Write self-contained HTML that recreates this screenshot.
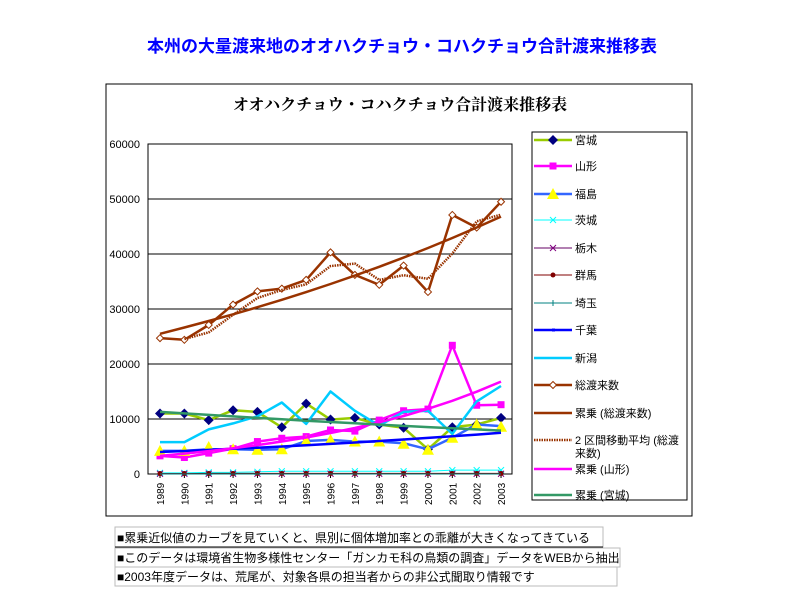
<!DOCTYPE html>
<html><head><meta charset="utf-8"><style>
body{margin:0;background:#fff;width:800px;height:600px;overflow:hidden;font-family:"Liberation Sans","Noto Sans CJK JP",sans-serif}
</style></head><body>
<svg id="s" width="800" height="600" xmlns="http://www.w3.org/2000/svg" font-family="Liberation Sans, Noto Sans CJK JP, sans-serif">
<text x="402" y="52" text-anchor="middle" font-size="17" font-weight="bold" fill="#0000ff">本州の大量渡来地のオオハクチョウ・コハクチョウ合計渡来推移表</text>
<rect x="106" y="84" width="586" height="432" fill="#fff" stroke="#000" stroke-width="1"/>
<text x="400" y="110" text-anchor="middle" font-size="16" font-weight="bold" font-family="Liberation Serif, Noto Serif CJK SC, serif">オオハクチョウ・コハクチョウ合計渡来推移表</text>
<rect x="148" y="144" width="364" height="330" fill="#fff" stroke="#000"/>
<g id="g"></g>
<rect x="532" y="132" width="155" height="368" fill="#fff" stroke="#000"/>
<g id="lg" font-size="11"></g>
<g font-size="12">
<rect x="115" y="527" width="488" height="20" fill="#fff" stroke="#bbb"/>
<text x="117" y="542">■累乗近似値のカーブを見ていくと、県別に個体増加率との乖離が大きくなってきている</text>
<line x1="115" y1="547" x2="603" y2="547" stroke="#000"/>
<rect x="115" y="548" width="505" height="19" fill="#fff" stroke="#bbb"/>
<text x="117" y="562">■このデータは環境省生物多様性センター「ガンカモ科の鳥類の調査」データをWEBから抽出</text>
<rect x="115" y="567" width="502" height="19" fill="#fff" stroke="#bbb"/>
<text x="117" y="581">■2003年度データは、荒尾が、対象各県の担当者からの非公式聞取り情報です</text>
</g>
</svg>
<script>
var ns="http://www.w3.org/2000/svg",g=document.getElementById("g"),lg=document.getElementById("lg");
function el(p,t,a){var e=document.createElementNS(ns,t);for(var k in a)e.setAttribute(k,a[k]);p.appendChild(e);return e;}
function X(i){return 160+i*24.36} function Y(v){return 474-v*0.0055}
for(var v=10000;v<=50000;v+=10000)el(g,"line",{x1:148,x2:512,y1:Y(v),y2:Y(v),stroke:"#000"});
for(var v=0;v<=60000;v+=10000){var t=el(g,"text",{x:140,y:Y(v)+4,"text-anchor":"end","font-size":"11"});t.textContent=v;}
for(var i=0;i<15;i++){var x=X(i);el(g,"line",{x1:x,x2:x,y1:474,y2:478,stroke:"#000"});var t=el(g,"text",{x:0,y:0,"font-size":"10",transform:"translate("+(x+4)+",505) rotate(-90)"});t.textContent=1989+i;}
function pw(a,b){var r=[];for(var i=0;i<15;i++)r.push(a*Math.pow(b/a,i/14));return r;}
var tot=[24700,24400,27100,30800,33200,33700,35300,40300,36200,34400,37900,33100,47100,44800,49500];
var ma=[null];for(var i=1;i<15;i++)ma.push((tot[i]+tot[i-1])/2);
var S=[
 {d:[11000,11000,9800,11600,11300,8500,12800,9900,10200,9000,8400,4500,8500,9000,10200],c:"#99cc00",w:2.5,m:"dia",mc:"#000080"},
 {d:[3300,3000,3800,4600,5900,6500,6800,8000,7800,9800,11500,11800,23400,12500,12600],c:"#ff00ff",w:2.5,m:"sq",mc:"#ff00ff"},
 {d:[4200,4200,4500,4500,4400,4500,6000,6200,5900,5900,5600,4500,6600,9000,8700],c:"#3366ff",w:2.5,m:"tri",mc:"#ffff00",md:[4200,4200,4900,4500,4400,4500,6000,6200,5900,5900,5500,4400,6600,9000,8600]},
 {d:[200,200,300,300,400,500,500,500,500,500,500,500,700,700,700],c:"#00ffff",w:1,m:"x",mc:"#00ffff"},
 {d:[50,50,50,50,50,50,50,50,50,50,50,50,50,50,50],c:"#660066",w:1,m:"x",mc:"#800080"},
 {d:[80,80,100,100,100,100,100,100,100,100,100,100,100,100,100],c:"#800000",w:1,m:"dot",mc:"#800000"},
 {d:[0,0,0,0,0,0,0,0,0,0,0,0,0,0,0],c:"#008080",w:1},
 {d:pw(4000,7500),c:"#0000ff",w:2.5},
 {d:[5800,5800,8100,9200,10500,13000,9100,15000,11500,8800,11300,11500,7300,13200,16000],c:"#00ccff",w:2.5},
 {d:tot,c:"#993300",w:2.5,m:"circ",mc:"#fff"},
 {d:pw(25500,46800),c:"#993300",w:2.5},
 {d:ma,c:"#993300",w:2.5,dash:"1.5,1"},
 {d:pw(3300,16800),c:"#ff00ff",w:2.5},
 {d:pw(11300,7900),c:"#339966",w:2.5}
];
function mk(p,type,x,y,c,stroke){
 if(type=="dia")el(p,"polygon",{points:[x,y-5,x+5,y,x,y+5,x-5,y].join(","),fill:c});
 else if(type=="sq")el(p,"rect",{x:x-3.5,y:y-3.5,width:7,height:7,fill:c});
 else if(type=="tri")el(p,"polygon",{points:[x,y-6,x+6,y+5,x-6,y+5].join(","),fill:c});
 else if(type=="x"){el(p,"path",{d:"M"+(x-3)+" "+(y-3)+"L"+(x+3)+" "+(y+3)+"M"+(x+3)+" "+(y-3)+"L"+(x-3)+" "+(y+3),stroke:c,"stroke-width":1});}
 else if(type=="dot")el(p,"circle",{cx:x,cy:y,r:2.5,fill:c});
 else if(type=="circ")el(p,"polygon",{points:[x,y-3.5,x+3.5,y,x,y+3.5,x-3.5,y].join(","),fill:"#fff",stroke:"#993300"});
}
S.forEach(function(s){
 var pts=[];s.d.forEach(function(v,i){if(v!=null)pts.push(X(i).toFixed(1)+","+Y(v).toFixed(1));});
 var a={points:pts.join(" "),fill:"none",stroke:s.c,"stroke-width":s.w,"stroke-linejoin":"round"};
 if(s.dash)a["stroke-dasharray"]=s.dash;
 el(g,"polyline",a);
 if(s.m){(s.md||s.d).forEach(function(v,i){mk(g,s.m,X(i),Y(v),s.mc);});}
});
var L=[["宮城",140],["山形",166],["福島",194],["茨城",220],["栃木",248],["群馬",275],["埼玉",303],["千葉",330],["新潟",358],["総渡来数",385],["累乗 (総渡来数)",413],["2 区間移動平均 (総渡",440],["累乗 (山形)",469],["累乗 (宮城)",495]];
var lm=[S[0],S[1],S[2],S[3],S[4],S[5],S[6],S[7],S[8],S[9],S[10],S[11],S[12],S[13]];
L.forEach(function(l,i){var s=lm[i],y=l[1];
 var a={x1:534,x2:572,y1:y,y2:y,stroke:s.c,"stroke-width":s.w};if(s.dash)a["stroke-dasharray"]=s.dash;el(lg,"line",a);
 if(s.m)mk(lg,s.m,553,y,s.mc);
 if(i==6)el(lg,"line",{x1:553,x2:553,y1:y-3,y2:y+3,stroke:s.c});
 if(i==7)el(lg,"rect",{x:552,y:y-1.5,width:3,height:3,fill:s.c});
 var t=el(lg,"text",{x:575,y:y+4});t.textContent=l[0];});
var t=el(lg,"text",{x:575,y:457});t.textContent="来数)";
</script>
</body></html>
